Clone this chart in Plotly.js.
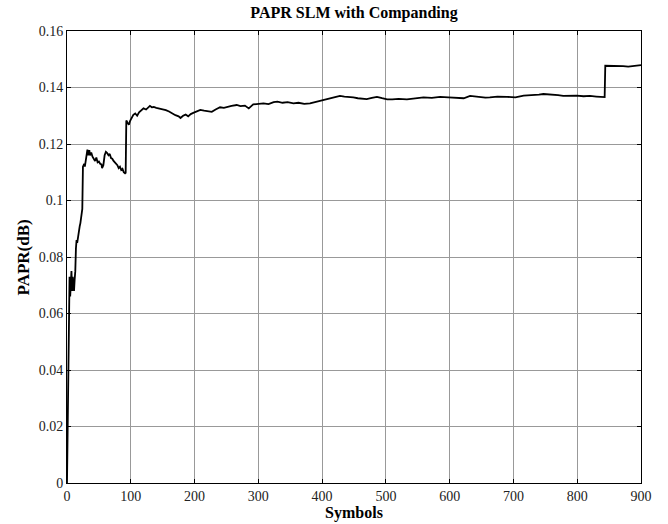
<!DOCTYPE html>
<html>
<head>
<meta charset="utf-8">
<script src="https://cdn.plot.ly/plotly-3.0.1.min.js"></script>
<style>html,body{margin:0;padding:0;background:#fff;}#chart{width:668px;height:524px;}</style>
</head>
<body>
<div id="chart"></div>
<script>
const symbols = [0,1,2,3,4,5,6,7,8,9,10,11,12,13,14,15,16,17,18,19,20,21,22,23,24,25,26,27,28,30,32,33,34,35,36,38,40,42,44,46,48,50,52,54,55,57,59,61,63,65,67,69,71,73,75,77,79,81,83,85,87,89,91,92,93,95,97,99,101,104,107,110,113,116,120,124,127,130,133,136,140,145,150,155,160,165,170,175,178,182,186,190,194,198,203,209,215,220,227,233,240,246,252,258,266,272,279,285,292,300,308,316,324,330,338,346,355,363,372,381,390,397,405,413,420,428,435,442,449,456,463,470,478,486,494,502,510,520,533,545,559,572,585,598,611,622,632,645,656,663,675,690,703,716,730,740,747,755,763,770,778,790,799,810,820,830,840,843,844,850,860,872,880,890,900];
const papr = [0,0.022,0.048,0.062,0.073,0.066,0.072,0.075,0.068,0.073,0.070,0.068,0.072,0.075,0.083,0.086,0.085,0.087,0.088,0.090,0.091,0.092,0.094,0.096,0.097,0.112,0.113,0.113,0.112,0.115,0.118,0.116,0.117,0.1178,0.116,0.117,0.1155,0.1148,0.1140,0.1152,0.1135,0.1138,0.1130,0.1128,0.1115,0.1125,0.1160,0.1172,0.1168,0.1160,0.1165,0.1150,0.1148,0.1140,0.1135,0.1128,0.1125,0.1115,0.1120,0.1108,0.1112,0.1100,0.1096,0.1098,0.1283,0.1275,0.1268,0.1282,0.1290,0.1303,0.1308,0.1300,0.1312,0.1318,0.1326,0.1322,0.1330,0.1335,0.1330,0.1331,0.1328,0.1326,0.1322,0.1320,0.1315,0.1308,0.1302,0.1298,0.1292,0.1300,0.1304,0.1298,0.1306,0.1310,0.1314,0.1321,0.1318,0.1316,0.1314,0.1322,0.1330,0.1328,0.1332,0.1335,0.1338,0.1334,0.1336,0.1326,0.1340,0.1341,0.1344,0.1341,0.1348,0.1350,0.1346,0.1348,0.1344,0.1346,0.1342,0.1344,0.1349,0.1353,0.1357,0.1362,0.1366,0.1370,0.1368,0.1367,0.1365,0.1362,0.1361,0.1359,0.1363,0.1367,0.1362,0.1358,0.1358,0.1360,0.1358,0.1361,0.1365,0.1363,0.1367,0.1365,0.1364,0.1362,0.1370,0.1366,0.1364,0.1365,0.1368,0.1367,0.1365,0.1371,0.1372,0.1375,0.1377,0.1376,0.1376,0.1373,0.1370,0.1371,0.1371,0.1369,0.1370,0.1368,0.1367,0.1366,0.1477,0.1477,0.1475,0.1476,0.1474,0.1477,0.1479];
const xTicks = [0,100,200,300,400,500,600,700,800,900];
const yTicks = [0,0.02,0.04,0.06,0.08,0.1,0.12,0.14,0.16];
const yTickText = ['0','0.02','0.04','0.06','0.08','0.1','0.12','0.14','0.16'];

const font = 'Liberation Serif, Times New Roman, serif';
const trace = {
  x: symbols, y: papr, type: 'scatter', mode: 'lines',
  line: {color: '#000', width: 1.8}, hoverinfo: 'skip'
};
const axisCommon = {
  showline: true, linecolor: '#000', linewidth: 1, mirror: 'ticks',
  ticks: 'inside', ticklen: 4, tickcolor: '#000', tickwidth: 1,
  showgrid: true, gridcolor: '#999', gridwidth: 1, zeroline: false,
  tickfont: {family: font, size: 14, color: '#222'}, automargin: false
};
const layout = {
  width: 668, height: 524,
  margin: {l: 67, r: 27, t: 31, b: 41},
  paper_bgcolor: '#fff', plot_bgcolor: '#fff',
  showlegend: false,
  title: {text: '<b>PAPR SLM with Companding</b>', font: {family: font, size: 16, color: '#000'},
          xref: 'paper', x: 0.5, xanchor: 'center', yref: 'container', y: 0.977, yanchor: 'middle'},
  xaxis: Object.assign({}, axisCommon, {
    range: [0, 900], tickvals: xTicks, ticktext: xTicks.map(String),
    title: {text: '<b>Symbols</b>', font: {family: font, size: 16, color: '#000'}, standoff: 0}
  }),
  yaxis: Object.assign({}, axisCommon, {
    range: [0, 0.16], tickvals: yTicks, ticktext: yTickText
  }),
  annotations: [{
    text: '<b>PAPR(dB)</b>', textangle: -90, showarrow: false,
    xref: 'paper', yref: 'paper', x: -0.0758, y: 0.5, xanchor: 'center', yanchor: 'middle',
    font: {family: font, size: 17, color: '#000'}
  }]
};
Plotly.newPlot('chart', [trace], layout, {displayModeBar: false, staticPlot: true});
</script>
</body>
</html>
